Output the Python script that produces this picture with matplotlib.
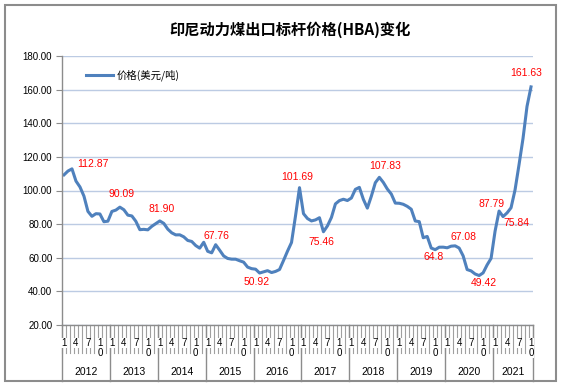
import matplotlib
matplotlib.use("Agg")
import matplotlib.pyplot as plt
from matplotlib.transforms import blended_transform_factory
from matplotlib.patches import Rectangle

plt.rcParams['font.family'] = ['Liberation Sans', 'Noto Sans CJK SC', 'DejaVu Sans']

years = ['2012', '2013', '2014', '2015', '2016', '2017', '2018', '2019', '2020', '2021']
months_per_year = [12, 12, 12, 12, 12, 12, 12, 12, 12, 10]

prices = [
    # 2012
    109.29, 111.58, 112.87, 105.61, 102.12, 96.65, 87.56, 84.65, 86.21, 86.04, 81.44, 81.75,
    # 2013
    87.55, 88.35, 90.09, 88.56, 85.33, 84.87, 81.69, 76.70, 76.89, 76.61, 78.69, 80.31,
    # 2014
    81.90, 80.44, 77.01, 74.81, 73.60, 73.64, 72.45, 70.29, 69.69, 67.26, 65.70, 69.20,
    # 2015
    63.84, 62.92, 67.76, 64.48, 61.08, 59.59, 59.16, 59.14, 58.21, 57.39, 54.43, 53.51,
    # 2016
    53.20, 50.92, 51.62, 52.32, 51.20, 51.87, 53.00, 58.37, 63.93, 69.07, 84.89, 101.69,
    # 2017
    86.23, 83.32, 81.90, 82.51, 83.81, 75.46, 78.95, 83.97, 92.03, 93.99, 94.80, 94.04,
    # 2018
    95.54, 100.69, 101.86, 94.75, 89.53, 96.61, 104.65, 107.83, 104.81, 100.89, 97.90, 92.51,
    # 2019
    92.41, 91.80, 90.57, 88.85, 81.86, 81.48, 71.92, 72.67, 65.79, 64.80, 66.27, 66.30,
    # 2020
    65.93, 66.89, 67.08, 65.77, 61.11, 52.98, 52.16, 50.34, 49.42, 51.00, 55.71, 59.65,
    # 2021
    75.84, 87.79, 84.47, 86.68, 89.74, 100.33, 115.35, 130.99, 150.03, 161.63,
]

month_labels = ['1', '', '', '4', '', '', '7', '', '', '1\n0', '', '']

# annotated points: index into prices, label text
label_idx = [2, 14, 24, 38, 49, 59, 65, 79, 93, 98, 104, 109, 108, 117]
label_txt = ['112.87', '90.09', '81.90', '67.76', '50.92', '101.69', '75.46',
             '107.83', '64.8', '67.08', '49.42', '87.79', '75.84', '161.63']
label_off = [(21, 5), (2, 13), (2, 12), (1, 9), (-3, -9), (-2, 11), (-2, -10),
             (6, 11), (-2, -7), (8, 9), (5, -7), (-8, 7), (21, 8), (-5, 14)]

W, H = 561, 391
fig = plt.figure(figsize=(W / 100, H / 100), dpi=100)
fig.patch.set_facecolor('white')

# outer border
fig.patches.append(Rectangle((5 / W, (H - 381) / H), 551 / W, 376 / H,
                             transform=fig.transFigure, fill=False,
                             edgecolor='#8c8c8c', lw=1.5))

left, right, top, bottom = 62, 533, 56, 325
ax = fig.add_axes([left / W, (H - bottom) / H, (right - left) / W, (bottom - top) / H])

n = len(prices)
xs = [i + 0.5 for i in range(n)]
ax.plot(xs, prices, color='#4F81BD', lw=2.2, solid_joinstyle='round',
        label='价格(美元/吨)')

ax.set_xlim(0, n)
ax.set_ylim(20, 180)
ax.set_yticks(range(20, 181, 20))
ax.set_yticklabels([f'{v:.2f}' for v in range(20, 181, 20)], fontsize=7)
ax.yaxis.grid(True, color='#BCCBE3', lw=1)
ax.set_axisbelow(True)
ax.tick_params(axis='y', length=4, color='#8c8c8c', pad=3)
ax.set_xticks([])
for s in ['top', 'right']:
    ax.spines[s].set_visible(False)
for s in ['left', 'bottom']:
    ax.spines[s].set_color('#8c8c8c')
    ax.spines[s].set_linewidth(1)

# data labels
for i, t, (dx, dy) in zip(label_idx, label_txt, label_off):
    ax.annotate(t, (xs[i], prices[i]), xytext=(dx, dy), textcoords='offset pixels',
                ha='center', va='center', color='red', fontsize=7.5)

# multi-level category axis
trans = blended_transform_factory(ax.transData, ax.transAxes)
ah = bottom - top
y_tick_bot = -(353 - bottom) / ah
y_year_bot = -(381 - bottom) / ah
y_month = -(338 - bottom) / ah
y_year = -(372 - bottom) / ah

for b in range(n + 1):
    ax.plot([b, b], [0, y_tick_bot], color='#a0a0a0', lw=0.8, transform=trans, clip_on=False)
start = 0
for yr, m in zip(years, months_per_year):
    ax.plot([start, start], [0, y_year_bot], color='#8c8c8c', lw=1, transform=trans, clip_on=False)
    for k in range(m):
        lab = month_labels[k]
        if lab:
            ax.text(start + k + 0.5, y_month, lab, transform=trans, ha='center', va='top',
                    fontsize=7, linespacing=0.95, bbox=dict(facecolor='white', edgecolor='none', pad=0.3))
    ax.text(start + m / 2, y_year, yr, transform=trans, ha='center', va='center', fontsize=7.5)
    start += m
ax.plot([start, start], [0, y_year_bot], color='#8c8c8c', lw=1, transform=trans, clip_on=False)

# legend
leg = ax.legend(loc='upper left', bbox_to_anchor=(0.03, 0.985), frameon=False,
                prop={'family': ['Noto Sans CJK SC'], 'size': 7.5},
                handlelength=2.6, handletextpad=0.4)

fig.text(290 / W, 1 - 30 / H, '印尼动力煤出口标杆价格(HBA)变化', ha='center', va='center',
         fontsize=11, fontweight='bold', family=['Noto Sans CJK SC', 'DejaVu Sans'])

fig.savefig('out.png', dpi=100)
